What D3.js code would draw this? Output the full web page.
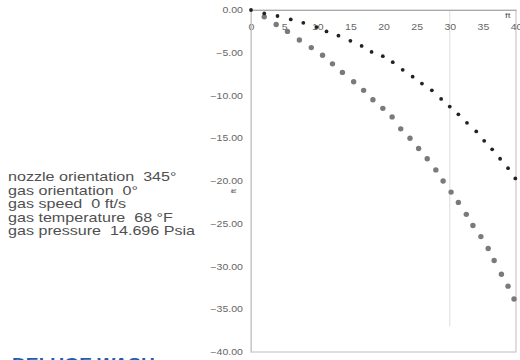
<!DOCTYPE html>
<html lang="en">
<head>
  <meta charset="UTF-8">
  <title>Deluge wash trajectory</title>
  <script src="https://d3js.org/d3.v7.min.js"></script>
  <style>
    body { margin: 0; background: #fff; }
    text { white-space: pre; }
  </style>
</head>
<body>
  <script>
    // trajectory points (ft)
    const upperX = [0, 2.0, 4.0, 6.0, 7.9, 9.9, 11.4, 13.2, 15.0, 16.7, 18.2, 19.9, 21.4, 22.9, 24.4, 25.8, 27.3, 28.7, 30.0, 31.3, 32.6, 34.0, 35.2, 36.4, 37.6, 38.8, 39.9];
    const upperY = [0, -0.4, -0.7, -1.1, -1.5, -2.0, -2.5, -3.0, -3.6, -4.2, -4.9, -5.4, -6.1, -7.0, -7.8, -8.6, -9.4, -10.4, -11.3, -12.2, -13.2, -14.2, -15.3, -16.3, -17.4, -18.5, -19.7];
    const lowerX = [2.0, 3.8, 5.5, 7.3, 9.1, 10.8, 12.3, 13.8, 15.5, 17.0, 18.4, 19.9, 21.3, 22.6, 24.0, 25.3, 26.6, 27.9, 29.0, 30.2, 31.3, 32.5, 33.5, 34.7, 35.8, 36.7, 37.8, 38.8, 39.7];
    const lowerY = [-0.8, -1.7, -2.5, -3.5, -4.4, -5.3, -6.3, -7.3, -8.4, -9.4, -10.5, -11.5, -12.5, -13.9, -15.0, -16.2, -17.4, -18.7, -20.0, -21.3, -22.5, -23.9, -25.2, -26.5, -27.9, -29.3, -30.9, -32.3, -33.8];
    const xTicks = [0, 5, 10, 15, 20, 25, 30, 35, 40];
    const yTicks = [0, -5, -10, -15, -20, -25, -30, -35, -40];
    const infoLines = ["nozzle orientation  345°", "gas orientation  0°", "gas speed  0 ft/s", "gas temperature  68 °F", "gas pressure  14.696 Psia"];

    const W = 520, H = 360;
    const plotL = 251, plotR = 516, plotT = 10, plotB = 352;
    const stretch = 1.24; // the source picture is a bit wide

    const svg = d3.select("body").append("svg")
      .attr("width", W).attr("height", H)
      .style("font-family", "Liberation Sans, Arial, sans-serif");

    const x = d3.scaleLinear().domain([0, 40]).range([plotL, plotR]);
    const y = d3.scaleLinear().domain([0, -40]).range([plotT, plotB]);

    // frame
    svg.append("rect")
      .attr("x", plotL).attr("y", plotT)
      .attr("width", plotR - plotL).attr("height", plotB - plotT)
      .attr("fill", "none").attr("stroke", "#c8c8c8").attr("stroke-width", 1.2);

    // faint line at x = 30
    svg.append("line")
      .attr("x1", x(30)).attr("x2", x(30))
      .attr("y1", plotT).attr("y2", y(-37))
      .attr("stroke", "#dcdcdc");

    // x axis along the top
    const xAxis = svg.append("g")
      .attr("transform", `translate(0,${plotT})`)
      .call(d3.axisBottom(x).tickValues(xTicks).tickSize(0).tickPadding(14));
    xAxis.select(".domain").attr("stroke", "#aaa");
    xAxis.selectAll("text").attr("fill", "#666").style("font-size", "8.5px")
      .attr("transform", `scale(${stretch},1)`);

    const yAxis = svg.append("g")
      .attr("transform", `translate(${plotL},0)`)
      .call(d3.axisLeft(y).tickValues(yTicks).tickSize(0).tickPadding(6.5)
        .tickFormat(d3.format(".2f")));
    yAxis.select(".domain").attr("stroke", "#c8c8c8");
    yAxis.selectAll("text").attr("fill", "#666").style("font-size", "8.5px")
      .attr("transform", `scale(${stretch},1)`);

    // unit labels
    svg.append("text").attr("transform", `translate(505,18) scale(${stretch},1)`)
      .attr("fill", "#555").style("font-size", "8px").text("ft");
    svg.append("text")
      .attr("transform", `translate(236,191) rotate(-90)`)
      .attr("text-anchor", "middle")
      .attr("fill", "#555").style("font-size", "7px").text("ft");

    // lower (gray) trajectory
    svg.append("g").selectAll("circle")
      .data(d3.zip(lowerX, lowerY))
      .join("circle")
      .attr("cx", d => x(d[0])).attr("cy", d => y(d[1]))
      .attr("r", 2.7).attr("fill", "#7a7a7a");

    // upper (dark) trajectory
    svg.append("g").selectAll("circle")
      .data(d3.zip(upperX, upperY))
      .join("circle")
      .attr("cx", d => x(d[0])).attr("cy", d => y(d[1]))
      .attr("r", 1.9).attr("fill", "#222");

    // conditions text
    svg.append("g").selectAll("text")
      .data(infoLines)
      .join("text")
      .attr("transform", (d, i) => `translate(8,${181 + i * 13.5}) scale(${stretch},1)`)
      .attr("fill", "#505050").style("font-size", "13px")
      .text(d => d);

    // title, mostly cut off by the bottom edge
    svg.append("text")
      .attr("transform", `translate(12,369.5) scale(1.2,1)`)
      .attr("fill", "#1a5fb4").style("font-size", "16px").style("font-weight", "bold")
      .text("DELUGE WASH");
  </script>
</body>
</html>
